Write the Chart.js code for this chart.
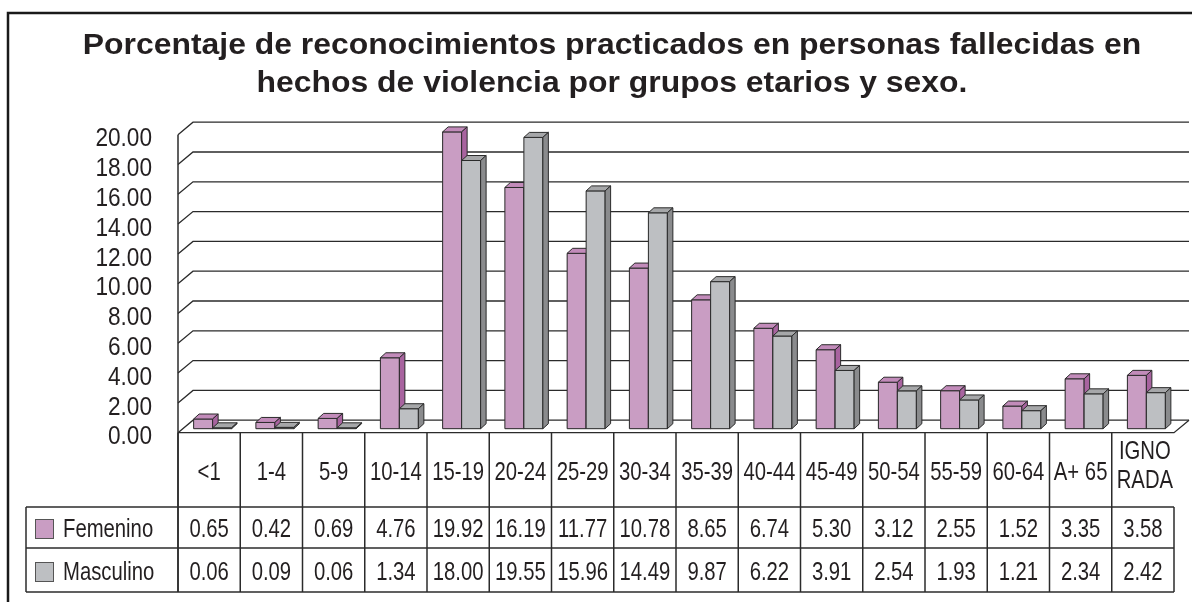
<!DOCTYPE html>
<html>
<head>
<meta charset="utf-8">
<script src="https://cdn.jsdelivr.net/npm/chart.js@4.4.0/dist/chart.umd.min.js"></script>
<style>
  html, body { margin: 0; padding: 0; background: #fff; }
  #wrap { width: 1192px; height: 602px; }
</style>
</head>
<body>
<div id="wrap"><canvas id="chart"></canvas></div>
<script>
// data
const titleLines = [
  "Porcentaje de reconocimientos practicados en personas fallecidas en",
  "hechos de violencia por grupos etarios y sexo."
];
const categories = ["<1", "1-4", "5-9", "10-14", "15-19", "20-24", "25-29", "30-34", "35-39",
  "40-44", "45-49", "50-54", "55-59", "60-64", "A+ 65", ["IGNO", "RADA"]];
const femenino = [0.65, 0.42, 0.69, 4.76, 19.92, 16.19, 11.77, 10.78, 8.65, 6.74, 5.30, 3.12, 2.55, 1.52, 3.35, 3.58];
const masculino = [0.06, 0.09, 0.06, 1.34, 18.00, 19.55, 15.96, 14.49, 9.87, 6.22, 3.91, 2.54, 1.93, 1.21, 2.34, 2.42];
const seriesNames = ["Femenino", "Masculino"];
const yMax = 20;
const yStep = 2;

const FONT = '"Liberation Sans", Arial, Helvetica, sans-serif';
const INK = "#231f20";
const LINE = "#2b2b2b";
const pink = { front: "#c99dc3", top: "#c28bba", side: "#a8639f" };
const grey = { front: "#bdbfc2", top: "#a6a7a9", side: "#8a8b8d" };
const faces = [pink, grey];

const WALL = { dx: 15, dy: -12.5 };   // depth of the back wall
const SHIFT = { dx: 3.5, dy: -4 };    // bars sit in the middle of the floor
const BAR = { dx: 5.5, dy: -5 };      // depth of one bar

function txt(ctx, s, x, y, size, sx, align, bold) {
  ctx.save();
  ctx.font = (bold ? "bold " : "") + size + "px " + FONT;
  ctx.fillStyle = INK;
  ctx.textAlign = align;
  ctx.textBaseline = "middle";
  ctx.translate(x, y);
  ctx.scale(sx, 1);
  ctx.fillText(s, 0, 0);
  ctx.restore();
}

function line(ctx, pts, w, color) {
  ctx.beginPath();
  ctx.moveTo(pts[0][0], pts[0][1]);
  for (let i = 1; i < pts.length; i++) ctx.lineTo(pts[i][0], pts[i][1]);
  ctx.lineWidth = w;
  ctx.strokeStyle = color || LINE;
  ctx.stroke();
}

function quad(ctx, pts, fill) {
  ctx.beginPath();
  ctx.moveTo(pts[0][0], pts[0][1]);
  for (let i = 1; i < pts.length; i++) ctx.lineTo(pts[i][0], pts[i][1]);
  ctx.closePath();
  ctx.fillStyle = fill;
  ctx.fill();
  ctx.lineWidth = 1;
  ctx.strokeStyle = LINE;
  ctx.stroke();
}

// frame, title, back wall with grid lines and the y tick labels
const backdrop = {
  id: "backdrop",
  beforeDraw(chart) {
    const ctx = chart.ctx;
    const area = chart.chartArea;
    const y = chart.scales.y;
    ctx.save();
    ctx.fillStyle = "#fff";
    ctx.fillRect(0, 0, chart.width, chart.height);

    line(ctx, [[8, chart.height + 5], [8, 13], [chart.width + 5, 13]], 2.5, "#1a1a1a");

    txt(ctx, titleLines[0], 612, 46, 29, 1.1, "center", true);
    txt(ctx, titleLines[1], 612, 84, 29, 1.1, "center", true);

    y.ticks.forEach(t => {
      const fy = y.getPixelForValue(t.value);
      line(ctx, [[area.left, fy], [area.left + WALL.dx, fy + WALL.dy], [area.right + WALL.dx, fy + WALL.dy]], 1.3);
      txt(ctx, t.value.toFixed(2), 152, fy + 4.5, 26, 0.87, "right");
    });
    // floor edges
    const f0 = y.getPixelForValue(0);
    line(ctx, [[area.left, f0], [area.right, f0], [area.right + WALL.dx, f0 + WALL.dy]], 1.3);
    // left wall edge
    line(ctx, [[area.left, y.getPixelForValue(yMax)], [area.left, area.bottom + 159.3]], 1.5);
    ctx.restore();
  }
};

// 3D tops and sides for the bars
const bars3d = {
  id: "bars3d",
  beforeDatasetsDraw(chart) {
    chart.ctx.save();
    chart.ctx.translate(SHIFT.dx, SHIFT.dy);
  },
  afterDatasetsDraw(chart) {
    const ctx = chart.ctx;
    for (let i = 0; i < categories.length; i++) {
      for (let d = 0; d < 2; d++) {
        const el = chart.getDatasetMeta(d).data[i];
        const p = el.getProps(["x", "y", "base", "width"], true);
        const l = p.x - p.width / 2, r = p.x + p.width / 2;
        const c = faces[d];
        quad(ctx, [[l, p.y], [r, p.y], [r, p.base], [l, p.base]], c.front);
        quad(ctx, [[l, p.y], [l + BAR.dx, p.y + BAR.dy], [r + BAR.dx, p.y + BAR.dy], [r, p.y]], c.top);
        quad(ctx, [[r, p.y], [r + BAR.dx, p.y + BAR.dy], [r + BAR.dx, p.base + BAR.dy], [r, p.base]], c.side);
      }
    }
    ctx.restore();
  }
};

// data table under the plot
const dataTable = {
  id: "dataTable",
  afterDraw(chart) {
    const ctx = chart.ctx;
    const area = chart.chartArea;
    const x = chart.scales.x;
    const n = categories.length;
    const cw = (area.right - area.left) / n;
    const top = area.bottom;
    const r1 = top + 74.3, r2 = top + 115.3, bot = top + 159.3;
    const leftEdge = 26;
    ctx.save();

    // column lines
    for (let i = 0; i < n; i++) {
      const bx = x.getPixelForValue(i) - cw / 2;
      line(ctx, [[bx, top], [bx, bot]], 1.5);
    }
    line(ctx, [[area.right, r1], [area.right, bot]], 1.5);
    line(ctx, [[leftEdge, r1], [leftEdge, bot]], 1.5);
    [r1, r2, bot].forEach(ry => line(ctx, [[leftEdge, ry], [area.right, ry]], 1.5));

    // category labels
    categories.forEach((c, i) => {
      const cx = x.getPixelForValue(i);
      if (Array.isArray(c)) {
        txt(ctx, c[0], cx + 2, top + 19.5, 26, 0.78, "center");
        txt(ctx, c[1], cx + 2, top + 48.5, 26, 0.78, "center");
      } else {
        txt(ctx, c, cx, top + 40, 26, 0.78, "center");
      }
    });

    // series rows
    const rows = [femenino, masculino];
    const rowY = [top + 97.3, top + 140.3];
    rows.forEach((vals, d) => {
      const ry = rowY[d];
      ctx.fillStyle = faces[d].front;
      ctx.fillRect(35, ry - 11, 18, 19);
      ctx.lineWidth = 1;
      ctx.strokeStyle = "#555";
      ctx.strokeRect(35.5, ry - 10.5, 18, 19);
      txt(ctx, seriesNames[d], 63, ry, 26, 0.78, "left");
      vals.forEach((v, i) => {
        txt(ctx, v.toFixed(2), x.getPixelForValue(i), ry, 26, 0.78, "center");
      });
    });
    ctx.restore();
  }
};

new Chart(document.getElementById("chart"), {
  type: "bar",
  data: {
    labels: categories,
    datasets: [
      { label: seriesNames[0], data: femenino, backgroundColor: pink.front },
      { label: seriesNames[1], data: masculino, backgroundColor: grey.front }
    ]
  },
  options: {
    responsive: true,
    maintainAspectRatio: false,
    animation: false,
    events: [],
    layout: { padding: { top: 134.7, left: 178, right: 18, bottom: 169.3 } },
    datasets: {
      bar: {
        categoryPercentage: 0.61,
        barPercentage: 1,
        borderColor: LINE,
        borderWidth: 1,
        borderSkipped: false
      }
    },
    scales: {
      x: { display: false },
      y: { display: false, min: 0, max: yMax, ticks: { stepSize: yStep } }
    },
    plugins: {
      legend: { display: false },
      title: { display: false },
      tooltip: { enabled: false }
    }
  },
  plugins: [backdrop, bars3d, dataTable]
});
</script>
</body>
</html>
